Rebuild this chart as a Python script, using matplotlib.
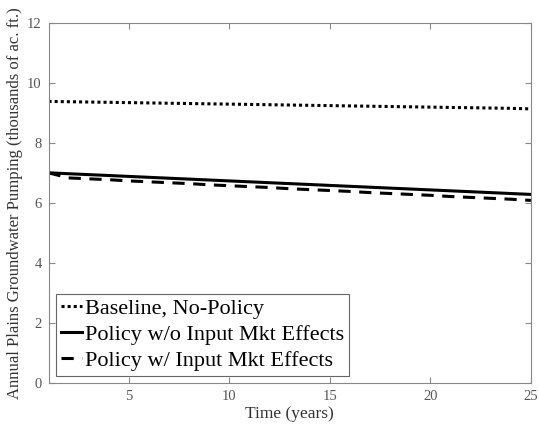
import matplotlib.pyplot as plt

years = list(range(1, 26))

baseline = [9.40, 9.39, 9.38, 9.37, 9.36, 9.35, 9.34, 9.33, 9.32, 9.31,
            9.30, 9.29, 9.28, 9.27, 9.26, 9.25, 9.24, 9.23, 9.22, 9.21,
            9.20, 9.19, 9.18, 9.17, 9.15]
policy_no_mkt = [7.02, 6.99, 6.96, 6.93, 6.90, 6.87, 6.84, 6.81, 6.78, 6.75,
                 6.72, 6.69, 6.66, 6.63, 6.60, 6.57, 6.54, 6.51, 6.48, 6.45,
                 6.42, 6.39, 6.36, 6.33, 6.30]
policy_mkt = [7.02, 6.85, 6.82, 6.79, 6.75, 6.72, 6.69, 6.66, 6.62, 6.59,
              6.56, 6.53, 6.49, 6.46, 6.43, 6.40, 6.36, 6.33, 6.30, 6.27,
              6.23, 6.20, 6.17, 6.14, 6.10]

plt.rcParams['font.family'] = ['Liberation Serif', 'DejaVu Serif']

fig, ax = plt.subplots(figsize=(5.39, 4.26), dpi=100)
fig.subplots_adjust(left=0.09, right=0.985, top=0.945, bottom=0.10)

ax.plot(years, baseline, color='black', linestyle=(0, (1, 1)), linewidth=2.2,
        label='Baseline, No-Policy')
ax.plot(years, policy_no_mkt, color='black', linestyle='-', linewidth=2.2,
        label='Policy w/o Input Mkt Effects')
ax.plot(years, policy_mkt, color='black', linestyle=(0, (4, 2.8)), linewidth=2.2,
        label='Policy w/ Input Mkt Effects')

ax.set_xlim(1, 25)
ax.set_ylim(0, 12)
ax.set_xticks([5, 10, 15, 20, 25])
ax.set_yticks([0, 2, 4, 6, 8, 10, 12])

gray = '#555555'
for s in ax.spines.values():
    s.set_color('#888888')
    s.set_linewidth(0.8)
ax.tick_params(direction='in', top=True, right=True, colors='#888888',
               labelcolor=gray, labelsize=10.5, length=4, pad=5)

ax.set_xlabel('Time (years)', fontsize=12.5, color='#333333', labelpad=2)
ax.set_ylabel('Annual Plains Groundwater Pumping (thousands of ac. ft.)',
              fontsize=12, color='#333333', labelpad=3)

leg = ax.legend(loc='lower left', fontsize=16, handlelength=0.95,
                handletextpad=0.15, borderpad=0.2, labelspacing=0.25,
                borderaxespad=0.35, fancybox=False, framealpha=1)
leg.get_frame().set_edgecolor('#666666')
leg.get_frame().set_linewidth(0.8)

fig.savefig('out.png', dpi=100)
